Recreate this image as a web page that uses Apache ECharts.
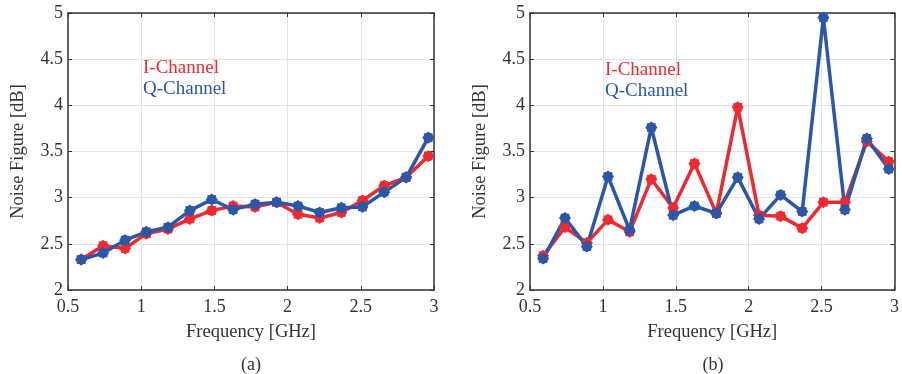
<!DOCTYPE html>
<html>
<head>
<meta charset="utf-8">
<script src="https://cdn.jsdelivr.net/npm/echarts@6/dist/echarts.min.js"></script>
<style>html,body{margin:0;padding:0;background:#fff}#c{width:902px;height:374px}</style>
</head>
<body>
<div id="c"></div>
<script>
// Frequency points (GHz)
const freq = [0.59, 0.74, 0.89, 1.035, 1.183, 1.332, 1.482, 1.628, 1.778, 1.925, 2.071, 2.219, 2.367, 2.512, 2.66, 2.81, 2.961];
// (a) Noise figure [dB]
const aI = [2.33, 2.48, 2.45, 2.61, 2.66, 2.77, 2.86, 2.91, 2.90, 2.95, 2.82, 2.78, 2.84, 2.97, 3.13, 3.22, 3.45];
const aQ = [2.33, 2.40, 2.54, 2.63, 2.68, 2.86, 2.98, 2.87, 2.93, 2.95, 2.91, 2.84, 2.89, 2.90, 3.06, 3.22, 3.65];
// (b) Noise figure [dB]
const bI = [2.37, 2.68, 2.51, 2.76, 2.63, 3.20, 2.89, 3.37, 2.83, 3.98, 2.81, 2.80, 2.67, 2.95, 2.95, 3.61, 3.39];
const bQ = [2.34, 2.78, 2.47, 3.23, 2.65, 3.76, 2.81, 2.91, 2.83, 3.22, 2.77, 3.03, 2.85, 4.95, 2.87, 3.64, 3.31];
const xTicks = [0.5, 1, 1.5, 2, 2.5, 3];
const yTicks = [2, 2.5, 3, 3.5, 4, 4.5, 5];
const names = ['I-Channel', 'Q-Channel'];
const captions = ['(a)', '(b)'];

const RED = '#ED2A2F', BLUE = '#2C56A6';
const FONT = 'Liberation Serif';
const AX = '#333333';

// jagged "burst" marker shape (circle with star spikes)
function burstPath() {
  const n = 16, pts = [];
  for (let k = 0; k < n; k++) {
    const a = Math.PI * 2 * k / n - Math.PI / 2;
    const r = k % 2 === 0 ? 50 : 41;
    pts.push((50 + r * Math.cos(a)).toFixed(2) + ',' + (50 + r * Math.sin(a)).toFixed(2));
  }
  return 'path://M' + pts.join('L') + 'Z';
}
const MARK = burstPath();

const grids = [
  {left: 68, top: 13, width: 366, height: 277},
  {left: 530, top: 13, width: 366, height: 277}
];

const xAxes = [], yAxes = [];
grids.forEach((g, i) => {
  xAxes.push({
    type: 'value', gridIndex: i, min: xTicks[0], max: xTicks[xTicks.length - 1], interval: 0.5,
    position: 'bottom',
    name: 'Frequency [GHz]', nameLocation: 'middle', nameGap: 33,
    nameTextStyle: {fontFamily: FONT, fontSize: 18.5, color: '#333'},
    axisLine: {show: true, onZero: false, lineStyle: {color: AX, width: 1.5}},
    axisTick: {show: true, inside: true, length: 4, lineStyle: {color: AX}},
    axisLabel: {fontFamily: FONT, fontSize: 18, color: '#333', margin: 8,
      formatter: v => String(v)},
    splitLine: {show: true, lineStyle: {color: '#e3e3e3', width: 1}}
  });
  xAxes.push({
    type: 'value', gridIndex: i, min: xTicks[0], max: xTicks[xTicks.length - 1], interval: 0.5,
    position: 'top',
    axisLine: {show: true, onZero: false, lineStyle: {color: AX, width: 1.5}},
    axisTick: {show: true, inside: true, length: 4, lineStyle: {color: AX}},
    axisLabel: {show: false}, splitLine: {show: false}
  });
  yAxes.push({
    type: 'value', gridIndex: i, min: yTicks[0], max: yTicks[yTicks.length - 1], interval: 0.5,
    position: 'left',
    name: 'Noise Figure [dB]', nameLocation: 'middle', nameGap: 40,
    nameTextStyle: {fontFamily: FONT, fontSize: 18.5, color: '#333'},
    axisLine: {show: true, onZero: false, lineStyle: {color: AX, width: 1.5}},
    axisTick: {show: true, inside: true, length: 4, lineStyle: {color: AX}},
    axisLabel: {fontFamily: FONT, fontSize: 18, color: '#333', margin: 5,
      formatter: v => String(v)},
    splitLine: {show: true, lineStyle: {color: '#e3e3e3', width: 1}}
  });
  yAxes.push({
    type: 'value', gridIndex: i, min: yTicks[0], max: yTicks[yTicks.length - 1], interval: 0.5,
    position: 'right',
    axisLine: {show: true, onZero: false, lineStyle: {color: AX, width: 1.5}},
    axisTick: {show: true, inside: true, length: 4, lineStyle: {color: AX}},
    axisLabel: {show: false}, splitLine: {show: false}
  });
});

function mk(name, xs, ys, gi, color) {
  return {
    name: name, type: 'line', xAxisIndex: gi * 2, yAxisIndex: gi * 2,
    data: xs.map((x, k) => [x, ys[k]]),
    symbol: MARK, symbolSize: 12, showSymbol: true,
    lineStyle: {color: color, width: 3.5},
    itemStyle: {color: color},
    emphasis: {disabled: true},
    animation: false, clip: false
  };
}

const series = [
  mk(names[0], freq, aI, 0, RED),
  mk(names[1], freq, aQ, 0, BLUE),
  mk(names[0], freq, bI, 1, RED),
  mk(names[1], freq, bQ, 1, BLUE)
];

function legendAt(left, top) {
  return {
    left: left, top: top, orient: 'vertical', icon: 'none', itemWidth: 0, itemHeight: 16,
    itemGap: 2, selectedMode: false, padding: 0,
    textStyle: {fontFamily: FONT, fontSize: 19},
    data: [
      {name: names[0], textStyle: {color: RED}},
      {name: names[1], textStyle: {color: BLUE}}
    ]
  };
}

const chart = echarts.init(document.getElementById('c'), null, {renderer: 'canvas'});
chart.setOption({
  animation: false,
  backgroundColor: '#fff',
  grid: grids,
  xAxis: xAxes,
  yAxis: yAxes,
  legend: [legendAt(138, 59), legendAt(600, 61)],
  series: series,
  graphic: [
    {type: 'text', x: 251, y: 365, style: {text: captions[0], fontFamily: FONT, fontSize: 18, fill: '#333', textAlign: 'center', textVerticalAlign: 'middle'}},
    {type: 'text', x: 713, y: 365, style: {text: captions[1], fontFamily: FONT, fontSize: 18, fill: '#333', textAlign: 'center', textVerticalAlign: 'middle'}}
  ]
});
</script>
</body>
</html>
